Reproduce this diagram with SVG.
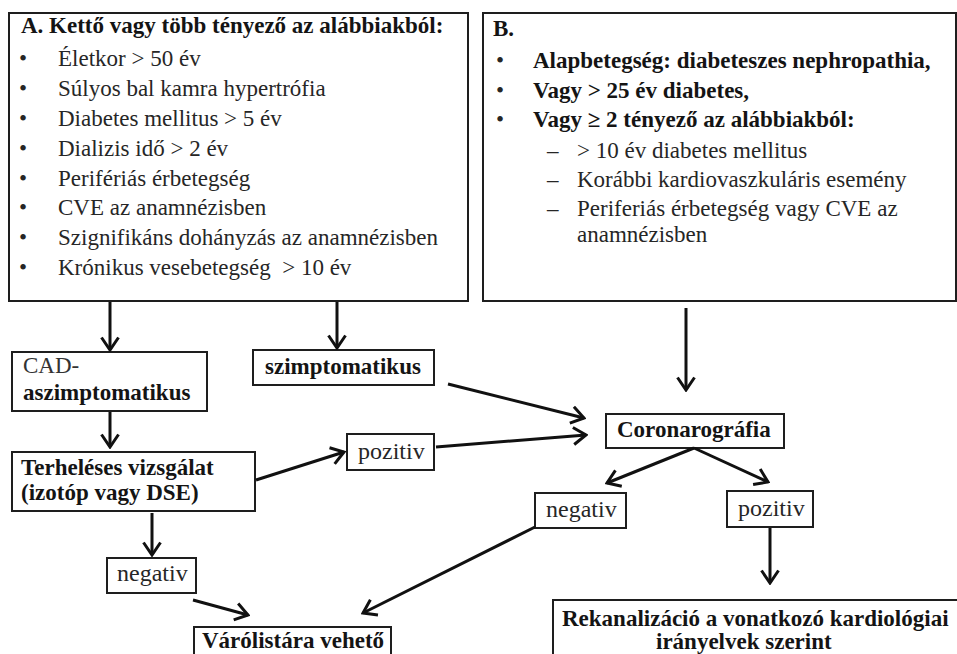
<svg xmlns="http://www.w3.org/2000/svg" width="957" height="654" viewBox="0 0 957 654">
<style>
.box{fill:#fff;stroke:#1e1e1e;stroke-width:2}
.c{fill:none;stroke:#111;stroke-width:3}
</style>
<defs>
<marker id="ah" viewBox="0 0 16 20" refX="14" refY="10" markerWidth="16" markerHeight="20" orient="auto" markerUnits="userSpaceOnUse">
<path d="M1.5,1.5 L14,10 L1.5,18.5" fill="none" stroke="#111" stroke-width="3"/>
</marker>
</defs>
<rect width="957" height="654" fill="#fff"/>

<g id="boxA">
<rect class="box" x="9" y="13" width="459" height="288"/>
<text style="font-family:'Liberation Serif',serif;font-size:23px;font-weight:bold;fill:#141414" x="21" y="33">A. Kettő vagy több tényező az alábbiakból:</text>
<text style="font-family:'Liberation Serif',serif;font-size:23px;fill:#262626" x="19" y="66">•</text>
<text style="font-family:'Liberation Serif',serif;font-size:23px;fill:#262626" x="58" y="66">Életkor &gt; 50 év</text>
<text style="font-family:'Liberation Serif',serif;font-size:23px;fill:#262626" x="19" y="96">•</text>
<text style="font-family:'Liberation Serif',serif;font-size:23px;fill:#262626" x="58" y="96">Súlyos bal kamra hypertrófia</text>
<text style="font-family:'Liberation Serif',serif;font-size:23px;fill:#262626" x="19" y="126">•</text>
<text style="font-family:'Liberation Serif',serif;font-size:23px;fill:#262626" x="58" y="126">Diabetes mellitus &gt; 5 év</text>
<text style="font-family:'Liberation Serif',serif;font-size:23px;fill:#262626" x="19" y="156">•</text>
<text style="font-family:'Liberation Serif',serif;font-size:23px;fill:#262626" x="58" y="156">Dializis idő &gt; 2 év</text>
<text style="font-family:'Liberation Serif',serif;font-size:23px;fill:#262626" x="19" y="186">•</text>
<text style="font-family:'Liberation Serif',serif;font-size:23px;fill:#262626" x="58" y="186">Perifériás érbetegség</text>
<text style="font-family:'Liberation Serif',serif;font-size:23px;fill:#262626" x="19" y="215">•</text>
<text style="font-family:'Liberation Serif',serif;font-size:23px;fill:#262626" x="58" y="215">CVE az anamnézisben</text>
<text style="font-family:'Liberation Serif',serif;font-size:23px;fill:#262626" x="19" y="245">•</text>
<text style="font-family:'Liberation Serif',serif;font-size:23px;fill:#262626" x="58" y="245">Szignifikáns dohányzás az anamnézisben</text>
<text style="font-family:'Liberation Serif',serif;font-size:23px;fill:#262626" x="19" y="275">•</text>
<text style="font-family:'Liberation Serif',serif;font-size:23px;fill:#262626" x="58" y="275" xml:space="preserve">Krónikus vesebetegség  &gt; 10 év</text>
</g>

<g id="boxB">
<rect class="box" x="483" y="13" width="473" height="288"/>
<text style="font-family:'Liberation Serif',serif;font-size:23px;font-weight:bold;fill:#141414" x="493" y="36">B.</text>
<text style="font-family:'Liberation Serif',serif;font-size:23px;fill:#262626" x="496" y="68">•</text>
<text style="font-family:'Liberation Serif',serif;font-size:23px;font-weight:bold;fill:#141414" x="533" y="68">Alapbetegség: diabeteszes nephropathia,</text>
<text style="font-family:'Liberation Serif',serif;font-size:23px;fill:#262626" x="496" y="98">•</text>
<text style="font-family:'Liberation Serif',serif;font-size:23px;font-weight:bold;fill:#141414" x="533" y="98">Vagy &gt; 25 év diabetes,</text>
<text style="font-family:'Liberation Serif',serif;font-size:23px;fill:#262626" x="496" y="127">•</text>
<text style="font-family:'Liberation Serif',serif;font-size:23px;font-weight:bold;fill:#141414" x="533" y="127">Vagy ≥ 2 tényező az alábbiakból:</text>
<text style="font-family:'Liberation Serif',serif;font-size:23px;fill:#262626" x="547" y="158">–</text>
<text style="font-family:'Liberation Serif',serif;font-size:23px;fill:#262626" x="577" y="158">&gt; 10 év diabetes mellitus</text>
<text style="font-family:'Liberation Serif',serif;font-size:23px;fill:#262626" x="547" y="187">–</text>
<text style="font-family:'Liberation Serif',serif;font-size:23px;fill:#262626" x="577" y="187">Korábbi kardiovaszkuláris esemény</text>
<text style="font-family:'Liberation Serif',serif;font-size:23px;fill:#262626" x="547" y="216">–</text>
<text style="font-family:'Liberation Serif',serif;font-size:23px;fill:#262626" x="577" y="216">Periferiás érbetegség vagy CVE az</text>
<text style="font-family:'Liberation Serif',serif;font-size:23px;fill:#262626" x="577" y="242">anamnézisben</text>
</g>

<g id="cad">
<rect class="box" x="12" y="352" width="195" height="59"/>
<text style="font-family:'Liberation Serif',serif;font-size:23px;fill:#333" x="23" y="373">CAD-</text>
<text style="font-family:'Liberation Serif',serif;font-size:23px;font-weight:bold;fill:#141414" x="23" y="400">aszimptomatikus</text>
</g>

<g id="szimp">
<rect class="box" x="253" y="350" width="181" height="35"/>
<text style="font-family:'Liberation Serif',serif;font-size:23px;font-weight:bold;fill:#141414" x="265" y="374">szimptomatikus</text>
</g>

<g id="terh">
<rect class="box" x="12" y="452" width="243" height="59"/>
<text style="font-family:'Liberation Serif',serif;font-size:23px;font-weight:bold;fill:#141414" x="21" y="475">Terheléses vizsgálat</text>
<text style="font-family:'Liberation Serif',serif;font-size:23px;font-weight:bold;fill:#141414" x="21" y="500">(izotóp vagy DSE)</text>
</g>

<g id="pozL">
<rect class="box" x="347" y="434" width="87" height="36"/>
<text style="font-family:'Liberation Serif',serif;font-size:24px;fill:#262626" x="358" y="459">pozitiv</text>
</g>

<g id="negL">
<rect class="box" x="107" y="558" width="89" height="35"/>
<text style="font-family:'Liberation Serif',serif;font-size:24px;fill:#262626" x="117" y="581">negativ</text>
</g>

<g id="coro">
<rect class="box" x="606" y="414" width="178" height="34"/>
<text style="font-family:'Liberation Serif',serif;font-size:23px;font-weight:bold;fill:#141414" x="617" y="437">Coronarográfia</text>
</g>

<g id="negR">
<rect class="box" x="535" y="493" width="91" height="35"/>
<text style="font-family:'Liberation Serif',serif;font-size:24px;fill:#262626" x="546" y="517">negativ</text>
</g>

<g id="pozR">
<rect class="box" x="727" y="491" width="86" height="36"/>
<text style="font-family:'Liberation Serif',serif;font-size:24px;fill:#262626" x="738" y="516">pozitiv</text>
</g>

<g id="varo">
<rect class="box" x="194" y="627" width="197" height="40"/>
<text style="font-family:'Liberation Serif',serif;font-size:23px;font-weight:bold;fill:#141414" x="202" y="648">Várólistára vehető</text>
</g>

<g id="rekan">
<rect class="box" x="553" y="600" width="420" height="70"/>
<text style="font-family:'Liberation Serif',serif;font-size:23px;font-weight:bold;fill:#141414" x="562" y="626">Rekanalizáció a vonatkozó kardiológiai</text>
<text style="font-family:'Liberation Serif',serif;font-size:23px;font-weight:bold;fill:#141414" x="656" y="649">irányelvek szerint</text>
</g>

<g id="connectors">
<line class="c" x1="110" y1="302" x2="110" y2="350" marker-end="url(#ah)"/>
<line class="c" x1="337" y1="302" x2="337" y2="348" marker-end="url(#ah)"/>
<line class="c" x1="686" y1="308" x2="686" y2="390" marker-end="url(#ah)"/>
<line class="c" x1="448" y1="384" x2="584" y2="418" marker-end="url(#ah)"/>
<line class="c" x1="436" y1="447" x2="586" y2="435" marker-end="url(#ah)"/>
<line class="c" x1="110" y1="412" x2="110" y2="447" marker-end="url(#ah)"/>
<line class="c" x1="256" y1="480" x2="344" y2="452" marker-end="url(#ah)"/>
<line class="c" x1="152" y1="513" x2="152" y2="555" marker-end="url(#ah)"/>
<line class="c" x1="193" y1="600" x2="248" y2="615" marker-end="url(#ah)"/>
<line class="c" x1="694" y1="448" x2="607" y2="483" marker-end="url(#ah)"/>
<line class="c" x1="694" y1="448" x2="768" y2="482" marker-end="url(#ah)"/>
<line class="c" x1="535" y1="527" x2="363" y2="613" marker-end="url(#ah)"/>
<line class="c" x1="770" y1="528" x2="770" y2="583" marker-end="url(#ah)"/>
</g>
</svg>
